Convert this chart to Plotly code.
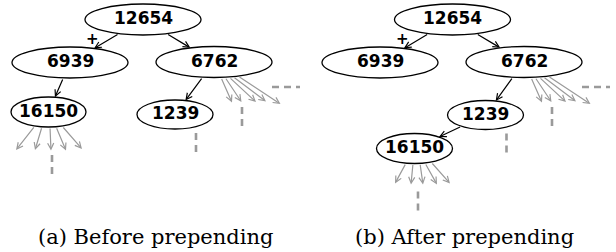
import math
import plotly.graph_objects as go

# ---------------- data ----------------
NODE_LABELS = ["12654", "6939", "6762", "1239", "16150"]
EDGES_BEFORE = [("12654", "6939"), ("12654", "6762"), ("6939", "16150"), ("6762", "1239")]
EDGES_AFTER = [("12654", "6939"), ("12654", "6762"), ("6762", "1239"), ("1239", "16150")]
PREPENDED_EDGE = ("12654", "6939")
PLUS_MARK = "+"
CAPTIONS = ["(a) Before prepending", "(b) After prepending"]

# ---------------- layout (positions / sizes) ----------------
# node -> (cx, cy, rx, ry) in pixel space
POS_A = {
    "12654": (143, 19.5, 58, 15.5),
    "6939": (70, 62.5, 58, 15.5),
    "6762": (214, 62, 58, 15.5),
    "16150": (48.5, 112, 37.5, 15),
    "1239": (175, 114.5, 38, 14.5),
}
POS_B = {
    "12654": (452.5, 19.5, 58, 15.5),
    "6939": (380, 62.5, 58, 15.5),
    "6762": (524, 62, 58, 15.5),
    "1239": (485.5, 115, 38, 14.5),
    "16150": (414.5, 148.5, 38, 15),
}
CAPTION_X = [155, 464]
CAPTION_Y = 237

# grey "other children" fans: tail dx on node bottom, head (dx, dy) relative to node centre
FAN_6762_TAIL = [7, 11, 15, 19, 24]
FAN_6762_HEAD = [(18, 40.5), (27.5, 40), (42, 40), (52, 39.5), (66.5, 42)]
FAN_16150_A_TAIL = [-13.5, -6.5, 1.5, 7.5, 13.5]
FAN_16150_A_HEAD = [(-32.5, 38), (-13.5, 38), (2.5, 38.5), (17.5, 38.5), (33.5, 37)]
FAN_16150_B_TAIL = [-8.5, -1.5, 5.5, 10.5, 16.5]
FAN_16150_B_HEAD = [(-19.5, 35), (-3.5, 36), (8.5, 36), (22.5, 36), (35.5, 35)]

# dashed continuation marks relative to node centre: (dx0, dy0, dx1, dy1)
DASH_6762 = [(28, 45, 28, 69), (58, 25, 86, 25)]
DASH_1239 = [(21, 18.5, 21, 42.5)]
DASH_16150 = [(3.5, 43, 3.5, 67)]

W, H = 616, 252
GREY = "#9a9a9a"

fig = go.Figure()
shapes = []
annotations = []


def boundary(node, toward):
    cx, cy, rx, ry = node
    dx, dy = toward[0] - cx, toward[1] - cy
    t = 1.0 / math.sqrt((dx / rx) ** 2 + (dy / ry) ** 2)
    return cx + dx * t, cy + dy * t


def bottom_point(node, dx):
    cx, cy, rx, ry = node
    return cx + dx, cy + ry * math.sqrt(max(0.0, 1 - (dx / rx) ** 2))


def arrow(tail, head, color, width=1.2):
    annotations.append(dict(
        x=head[0], y=head[1], ax=tail[0], ay=tail[1],
        xref="x", yref="y", axref="x", ayref="y",
        text="", showarrow=True, arrowhead=5, arrowsize=1.0,
        arrowwidth=width, arrowcolor=color, standoff=0,
    ))


def draw_panel(pos, edges, fan16150_tail, fan16150_head):
    # ellipses
    for lab in NODE_LABELS:
        cx, cy, rx, ry = pos[lab]
        shapes.append(dict(type="circle", xref="x", yref="y",
                           x0=cx - rx, x1=cx + rx, y0=cy - ry, y1=cy + ry,
                           line=dict(color="black", width=1.3), fillcolor="white",
                           layer="below"))
        annotations.append(dict(x=cx, y=cy - 1.5, xref="x", yref="y", text="<b>%s</b>" % lab,
                                showarrow=False, xanchor="center", yanchor="middle",
                                font=dict(family="DejaVu Sans", size=17, color="black")))
    # black edges
    for a, b in edges:
        A, B = pos[a], pos[b]
        tail = boundary(A, B[:2])
        head = boundary(B, A[:2])
        arrow(tail, head, "black", 1.2)
        if (a, b) == PREPENDED_EDGE:
            annotations.append(dict(x=head[0] - 1, y=head[1] - 9.5, xref="x", yref="y",
                                    text="<b>%s</b>" % PLUS_MARK, showarrow=False,
                                    xanchor="center", yanchor="middle",
                                    font=dict(family="DejaVu Sans", size=15, color="black")))
    # grey fans
    n = pos["6762"]
    for tdx, (hdx, hdy) in zip(FAN_6762_TAIL, FAN_6762_HEAD):
        arrow(bottom_point(n, tdx), (n[0] + hdx, n[1] + hdy), GREY, 1.2)
    n = pos["16150"]
    for tdx, (hdx, hdy) in zip(fan16150_tail, fan16150_head):
        arrow(bottom_point(n, tdx), (n[0] + hdx, n[1] + hdy), GREY, 1.2)
    # dashed continuations
    for lab, segs in (("6762", DASH_6762), ("1239", DASH_1239), ("16150", DASH_16150)):
        cx, cy = pos[lab][:2]
        for dx0, dy0, dx1, dy1 in segs:
            shapes.append(dict(type="line", xref="x", yref="y",
                               x0=cx + dx0, y0=cy + dy0, x1=cx + dx1, y1=cy + dy1,
                               line=dict(color=GREY, width=2.6, dash="7px,5px")))


draw_panel(POS_A, EDGES_BEFORE, FAN_16150_A_TAIL, FAN_16150_A_HEAD)
draw_panel(POS_B, EDGES_AFTER, FAN_16150_B_TAIL, FAN_16150_B_HEAD)

for cap, x in zip(CAPTIONS, CAPTION_X):
    annotations.append(dict(x=x, y=CAPTION_Y, xref="x", yref="y", text=cap, showarrow=False,
                            xanchor="center", yanchor="middle",
                            font=dict(family="DejaVu Serif", size=21, color="black")))

fig.update_layout(
    width=W, height=H, margin=dict(l=0, r=0, t=0, b=0),
    paper_bgcolor="white", plot_bgcolor="white",
    xaxis=dict(range=[0, W], visible=False, fixedrange=True),
    yaxis=dict(range=[H, 0], visible=False, fixedrange=True),
    shapes=shapes, annotations=annotations, showlegend=False,
)
fig.write_html(
    "out.html",
    config={"displayModeBar": False},
    post_script="document.body.style.margin='0';document.body.style.overflow='hidden';",
)
